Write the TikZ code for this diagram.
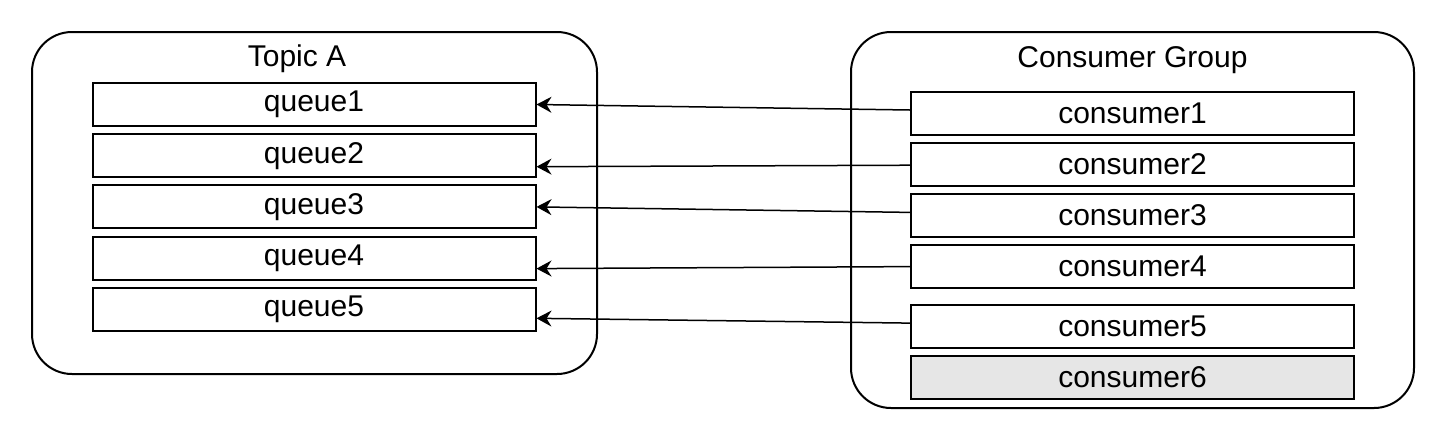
\documentclass[tikz,border=0pt]{standalone}
\usepackage{fontspec}
\setmainfont{Liberation Sans}
\usepackage{xcolor}
\usetikzlibrary{positioning, arrows.meta}

\definecolor{idlegray}{HTML}{E6E6E6}

\begin{document}
\begin{tikzpicture}[
        x=0.5pt, y=-0.5pt,
        node distance=3.1pt,
        group/.style={draw, line width=1pt, rounded corners=20pt, inner sep=0pt},
        title/.style={font=\fontsize{15}{18}\selectfont, inner sep=0pt},
        slot/.style={draw, line width=1pt, rectangle, inner sep=0pt, minimum width=221.5pt, minimum height=21.5pt, font=\fontsize{15}{18}\selectfont},
        arrow/.style={-{Stealth[length=7.5pt, width=8pt, inset=2.5pt]}, line width=0.75pt}
    ]
    \useasboundingbox (0,0) rectangle (1430,446);

    % Containers
    \node[group, minimum width=282.5pt, minimum height=171pt] (topic) at (314.5,203) {};
    \node[group, minimum width=281.5pt, minimum height=188pt] (cgroup) at (1132.5,220) {};
    \node[title] (topictitle) at (297,59) {Topic A};
    \node[title] (grouptitle) at (1132.5,60) {Consumer Group};

    % Queues of Topic A
    \node[slot] (q1) at (314,104.5) {queue1};
    \node[slot] (q2) [below=of q1] {queue2};
    \node[slot] (q3) [below=of q2] {queue3};
    \node[slot] (q4) [below=of q3] {queue4};
    \node[slot] (q5) [below=of q4] {queue5};

    % Consumers
    \node[slot] (c1) at (1132.5,113) {consumer1};
    \node[slot] (c2) [below=of c1] {consumer2};
    \node[slot] (c3) [below=of c2] {consumer3};
    \node[slot] (c4) [below=of c3] {consumer4};
    \node[slot] (c5) [below=7.25pt of c4] {consumer5};
    \node[slot, fill=idlegray] (c6) [below=of c5] {consumer6};

    % Assignments
    \draw [arrow] ([yshift=1.5pt]c1.west) -- ([yshift=0pt]q1.east);
    \draw [arrow] ([yshift=-0.5pt]c2.west) -- ([yshift=-5.5pt]q2.east);
    \draw [arrow] ([yshift=1.5pt]c3.west) -- ([yshift=0pt]q3.east);
    \draw [arrow] ([yshift=0pt]c4.west) -- ([yshift=-5.25pt]q4.east);
    \draw [arrow] ([yshift=1.5pt]c5.west) -- ([yshift=-4.5pt]q5.east);

\end{tikzpicture}
\end{document}
